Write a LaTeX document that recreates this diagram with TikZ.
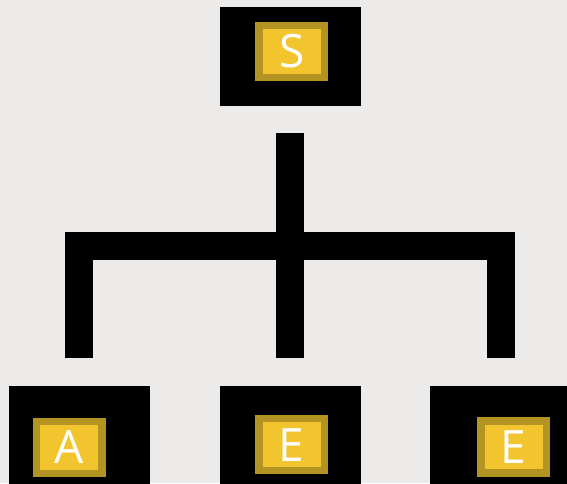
\documentclass[tikz,border=0pt]{standalone}
\usepackage{fontspec}
\usepackage{tikz}
\usetikzlibrary{positioning}
\newfontfamily\tilefont{Open Sans}
\definecolor{bgpaper}{HTML}{ECEBE9}
\definecolor{tilerim}{HTML}{B39322}
\definecolor{tilefill}{HTML}{F2C52F}
\tikzset{
  slot/.style = {rectangle, fill=black, inner sep=0pt,
    minimum width=141pt, minimum height=99pt},% black box
  tile/.style = {rectangle, draw=tilerim, fill=tilefill, line width=7.4pt,
    inner sep=0pt, minimum width=65.3pt, minimum height=52pt,
    text=white, font=\tilefont\fontsize{46}{46}\selectfont},% gold tile
  bar/.style = {line width=28pt, line cap=butt, line join=miter}% tree link
}
\begin{document}
\begin{tikzpicture}[x=1pt,y=-1pt]
\fill[bgpaper] (0,0) rectangle (567,483);
\useasboundingbox (0,0) rectangle (567,483);
\clip (0,0) rectangle (567,483);
% boxes
\node [slot] (top) at (290.5,56.5) {};
\node [slot] (left) at (79,435) {};
\node [slot] (mid) at (290.5,435) {};
\node [slot] (right) at (500.5,435) {};
\node [tile] (s) at (291.7,51.2) {S};
\node [tile] (a) at (69.2,447.2) {A};
\node [tile] (e1) at (291.7,444.7) {E};
\node [tile] (e2) at (513.7,447) {E};
% links
\coordinate (stem) at (290,133.3);
\coordinate (lleg) at (79.2,358.3);
\coordinate (mleg) at (290,358.3);
\coordinate (rleg) at (500.8,358.3);
\draw [bar] (lleg) -- (lleg |- 0,246) -- (rleg |- 0,246) -- (rleg);
\draw [bar] (stem) -- (mleg);
\end{tikzpicture}
\end{document}
